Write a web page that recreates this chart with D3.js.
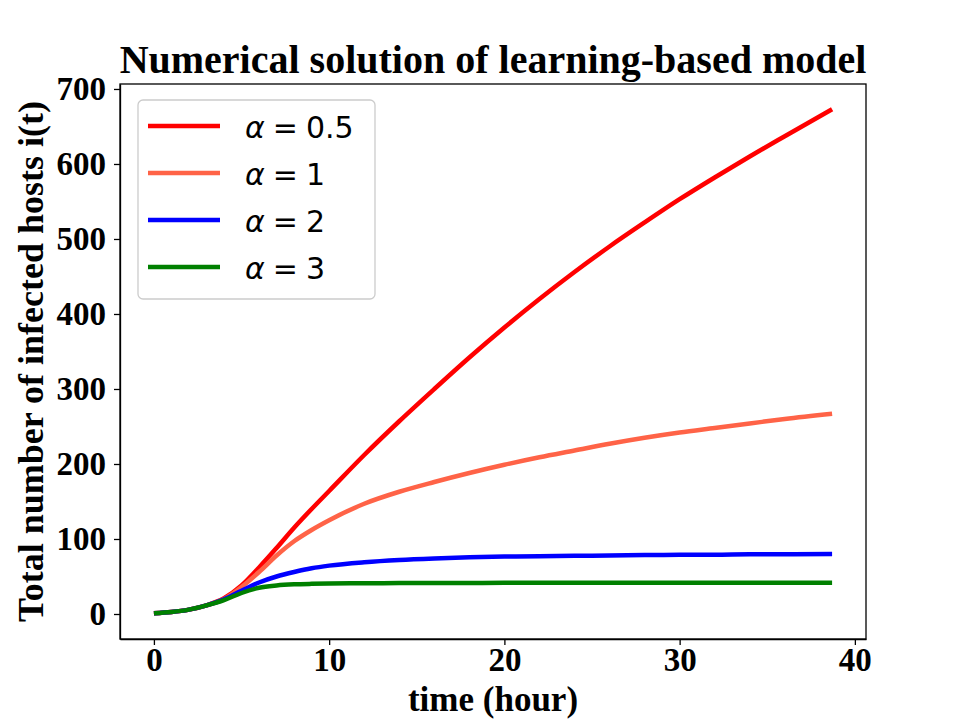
<!DOCTYPE html>
<meta charset="utf-8">
<html>
<head>
<script src="https://cdn.jsdelivr.net/npm/d3@7"></script>
<style>
body { margin:0; background:white; }
.axis text { font-family:'Liberation Serif', serif; font-weight:bold; font-size:33px; fill:black; }
.axis path, .axis line { stroke:black; stroke-width:1.3; }
</style>
</head>
<body>
<script>

// time points (hour)
var times = [0,1,2,3,4,5,6,7,8,9,10,12,14,16,18,20,22,24,26,28,30,32,34,36,38.7];

// infected hosts for each alpha
var alpha05 = [1,2.6,5.8,11.5,21,38,62,88,115,140,164,212,257,300,342,382,420,456,490,522,553,582,610,637,673];
var alpha1  = [1,2.6,5.8,11.5,20,36,56,78,97,112,125,147,163,176,188,199,209,218,227,235,242,248,254,260,267];
var alpha2  = [1,2.6,5.8,11.5,19.5,31,42,50,56,61,64.5,69,72,74,75.5,76.5,77,77.5,78,78.5,79,79,79.5,79.5,80];
var alpha3  = [1,2.6,5.8,11.5,18.5,28,35,38,39.5,40.2,40.6,41,41.2,41.3,41.4,41.5,41.5,41.5,41.5,41.5,41.5,41.5,41.5,41.5,41.5];

var labels = ["0.5", "1", "2", "3"];
var colors = ["#ff0000", "#ff6347", "#0000ff", "#008000"];
var xTicks = [0,10,20,30,40];
var yTicks = [0,100,200,300,400,500,600,700];

var series = [alpha05, alpha1, alpha2, alpha3].map((vals, i) => ({
  label: labels[i],
  color: colors[i],
  points: times.map((t, j) => ({t: t, v: vals[j]}))
}));

var W = 961, H = 719;
var m = {left:120, right:95, top:84, bottom:80};

var svg = d3.select("body").append("svg")
    .attr("width", W)
    .attr("height", H);

// matplotlib style 5% margins
var tMax = d3.max(times), vMin = 0.3, vMax = 673;
var x = d3.scaleLinear()
    .domain([-0.05 * tMax, 1.05 * tMax])
    .range([m.left, W - m.right]);
var y = d3.scaleLinear()
    .domain([vMin - 0.05 * (vMax - vMin), vMax + 0.05 * (vMax - vMin)])
    .range([H - m.bottom, m.top]);

// axes
svg.append("g")
    .attr("class", "axis")
    .attr("transform", `translate(0, ${H - m.bottom})`)
    .call(d3.axisBottom(x).tickValues(xTicks).tickSize(6).tickPadding(3).tickSizeOuter(0));

svg.append("g")
    .attr("class", "axis")
    .attr("transform", `translate(${m.left}, 0)`)
    .call(d3.axisLeft(y).tickValues(yTicks).tickSize(6).tickPadding(8).tickSizeOuter(0));

// frame
svg.append("rect")
    .attr("x", m.left)
    .attr("y", m.top)
    .attr("width", W - m.right - m.left)
    .attr("height", H - m.bottom - m.top)
    .attr("fill", "none")
    .attr("stroke", "black")
    .attr("stroke-width", 1.3);

// lines
var line = d3.line()
    .x(d => x(d.t))
    .y(d => y(d.v))
    .curve(d3.curveMonotoneX);

svg.selectAll(".series")
    .data(series)
    .enter()
    .append("path")
    .attr("class", "series")
    .attr("d", d => line(d.points))
    .attr("fill", "none")
    .attr("stroke", d => d.color)
    .attr("stroke-width", 4.5);

// titles
svg.append("text")
    .attr("x", (m.left + W - m.right) / 2)
    .attr("y", 73)
    .attr("text-anchor", "middle")
    .style("font-family", "'Liberation Serif', serif")
    .style("font-weight", "bold")
    .style("font-size", "40px")
    .text("Numerical solution of learning-based model");

svg.append("text")
    .attr("x", (m.left + W - m.right) / 2)
    .attr("y", 711)
    .attr("text-anchor", "middle")
    .style("font-family", "'Liberation Serif', serif")
    .style("font-weight", "bold")
    .style("font-size", "35px")
    .text("time (hour)");

svg.append("text")
    .attr("transform", `translate(43, ${(m.top + H - m.bottom) / 2}) rotate(-90)`)
    .attr("text-anchor", "middle")
    .style("font-family", "'Liberation Serif', serif")
    .style("font-weight", "bold")
    .style("font-size", "36px")
    .text("Total number of infected hosts i(t)");

// legend
var lg = svg.append("g").attr("transform", "translate(138, 100)");
lg.append("rect")
    .attr("width", 237)
    .attr("height", 199)
    .attr("rx", 5)
    .attr("fill", "white")
    .attr("fill-opacity", 0.8)
    .attr("stroke", "#cccccc")
    .attr("stroke-width", 1.3);

var item = lg.selectAll(".item")
    .data(series)
    .enter()
    .append("g")
    .attr("transform", (d, i) => `translate(0, ${26 + i * 47})`);

item.append("line")
    .attr("x1", 10).attr("x2", 82)
    .attr("stroke", d => d.color)
    .attr("stroke-width", 4.5);

var txt = item.append("text")
    .attr("x", 107)
    .attr("y", 12)
    .style("font-family", "'DejaVu Sans', sans-serif")
    .style("font-size", "30px");
txt.append("tspan").style("font-style", "italic").text("α");
txt.append("tspan").attr("dx", 8).text("=");
txt.append("tspan").attr("dx", 8).text(d => d.label);

</script>
</body>
</html>
